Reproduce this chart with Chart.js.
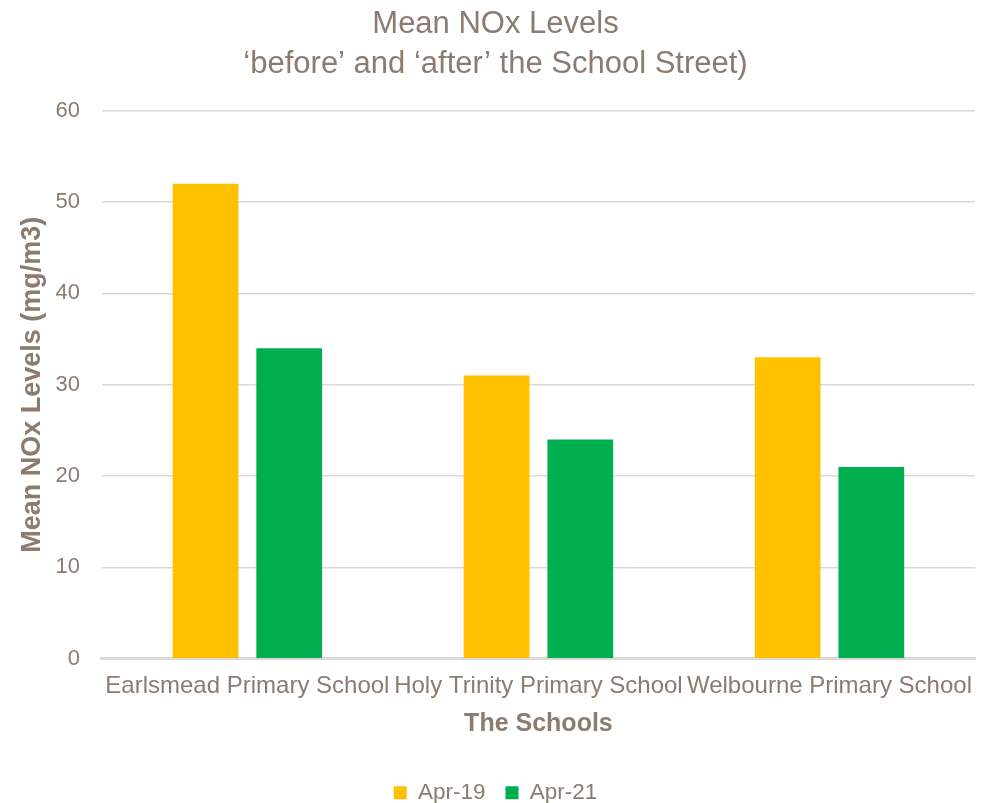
<!DOCTYPE html>
<html>
<head>
<meta charset="utf-8">
<script src="https://cdn.jsdelivr.net/npm/chart.js@4/dist/chart.umd.min.js"></script>
<style>
  html, body { margin: 0; padding: 0; background: #fff; }
  #wrap { width: 987px; height: 803px; position: relative; }
</style>
</head>
<body>
<div id="wrap"><canvas id="noxChart"></canvas></div>
<script>
const schools = ["Earlsmead Primary School", "Holy Trinity Primary School", "Welbourne Primary School"];
const apr19 = [52, 31, 33];
const apr21 = [34, 24, 21];
const seriesNames = ["Apr-19", "Apr-21"];

const textColor = "#8c7b70";
const font = "'Liberation Sans', Arial, sans-serif";

Chart.defaults.font.family = font;
Chart.defaults.color = textColor;

new Chart(document.getElementById("noxChart").getContext("2d"), {
  type: "bar",
  data: {
    labels: schools,
    datasets: [
      { label: seriesNames[0], data: apr19, backgroundColor: "#ffc000" },
      { label: seriesNames[1], data: apr21, backgroundColor: "#00b050" }
    ]
  },
  options: {
    responsive: true,
    maintainAspectRatio: false,
    animation: false,
    categoryPercentage: 0.575,
    barPercentage: 0.786,
    layout: { padding: { left: 16, right: 12, top: 2, bottom: -11 } },
    plugins: {
      title: {
        display: true,
        text: ["Mean NOx Levels", "\u2018before\u2019 and \u2018after\u2019 the School Street)"],
        font: { size: 31, weight: "normal", lineHeight: 1.27 },
        color: textColor,
        padding: { top: 3, bottom: 27 }
      },
      legend: {
        position: "bottom",
        labels: {
          boxWidth: 13,
          boxHeight: 13,
          padding: 20,
          font: { size: 22.5 },
          color: textColor
        }
      },
      tooltip: { enabled: false }
    },
    scales: {
      x: {
        grid: { display: false, drawTicks: false },
        border: { color: "#dcd8d5", width: 3 },
        ticks: { font: { size: 24 }, color: textColor, padding: 13, maxRotation: 0, autoSkip: false },
        title: {
          display: true,
          text: "The Schools",
          font: { size: 25, weight: "bold" },
          color: textColor,
          padding: { top: -4, bottom: 22 }
        }
      },
      y: {
        min: 0,
        max: 60,
        ticks: { stepSize: 10, font: { size: 22 }, color: textColor, padding: 22 },
        grid: { color: "#d9d9d9", lineWidth: 1.5, drawTicks: false },
        border: { display: false },
        title: {
          display: true,
          text: "Mean NOx Levels (mg/m3)",
          font: { size: 27, weight: "bold" },
          color: textColor,
          padding: { top: 0, bottom: -15 }
        }
      }
    }
  }
});
</script>
</body>
</html>
